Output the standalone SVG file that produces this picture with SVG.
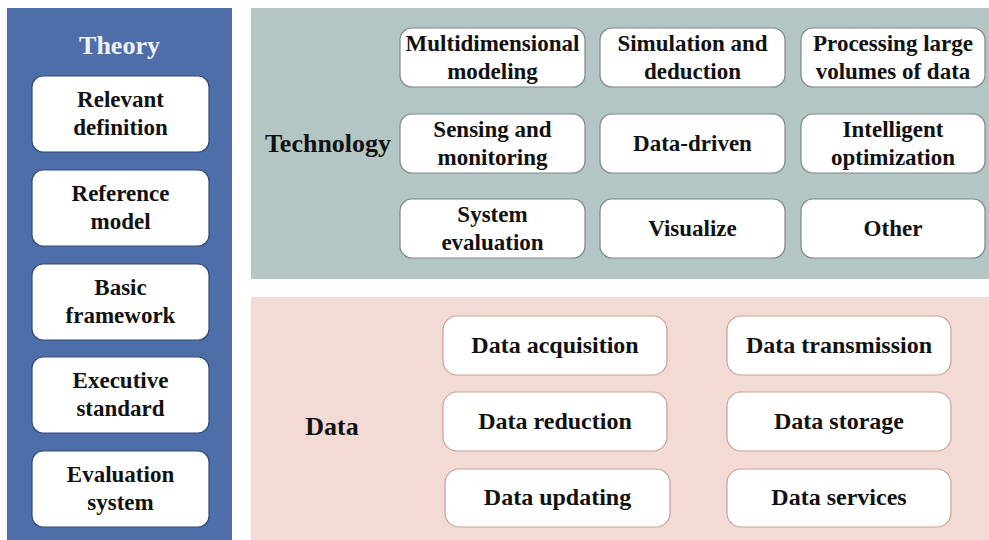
<svg xmlns="http://www.w3.org/2000/svg" width="989" height="540" viewBox="0 0 989 540">
<style>
text{font-family:"Liberation Serif","Times New Roman",serif;font-weight:bold;text-anchor:middle;fill:#111}
.bt{font-size:23px}
.da .bt{font-size:24px}
.title{font-size:26px}
.th rect{fill:#fff;stroke:#34497a;stroke-width:1.2}
.te rect{fill:#fff;stroke:#7c8786;stroke-width:1.2}
.da rect{fill:#fff;stroke:#c9a197;stroke-width:1.2}
</style>
<rect width="989" height="540" fill="#fff"/>
<g id="panel-theory">
<rect x="7" y="8" width="225" height="532" fill="#4e6ea9"/>
<text class="title" x="119.5" y="54" style="fill:#eef2f8">Theory</text>
</g>
<g id="panel-technology">
<rect x="251" y="8" width="738" height="271" fill="#b3c6c4"/>
<text class="title" x="328" y="152">Technology</text>
</g>
<g id="panel-data">
<rect x="251" y="297" width="738" height="243" fill="#f3dbd5"/>
<text class="title" x="332" y="435">Data</text>
</g>
<g id="connectors"></g>
<g id="theory-1" class="th"><rect x="32" y="76" width="177" height="76" rx="11"/><text class="bt" x="120.5" y="107">Relevant</text><text class="bt" x="120.5" y="135">definition</text></g>
<g id="theory-2" class="th"><rect x="32" y="170" width="177" height="76" rx="11"/><text class="bt" x="120.5" y="201">Reference</text><text class="bt" x="120.5" y="229">model</text></g>
<g id="theory-3" class="th"><rect x="32" y="264" width="177" height="76" rx="11"/><text class="bt" x="120.5" y="295">Basic</text><text class="bt" x="120.5" y="323">framework</text></g>
<g id="theory-4" class="th"><rect x="32" y="357" width="177" height="76" rx="11"/><text class="bt" x="120.5" y="388">Executive</text><text class="bt" x="120.5" y="416">standard</text></g>
<g id="theory-5" class="th"><rect x="32" y="451" width="177" height="76" rx="11"/><text class="bt" x="120.5" y="482">Evaluation</text><text class="bt" x="120.5" y="510">system</text></g>
<g id="tech-1" class="te"><rect x="400" y="28" width="185" height="59" rx="12"/><text class="bt" x="492.5" y="51">Multidimensional</text><text class="bt" x="492.5" y="79">modeling</text></g>
<g id="tech-2" class="te"><rect x="600" y="28" width="185" height="59" rx="12"/><text class="bt" x="692.5" y="51">Simulation and</text><text class="bt" x="692.5" y="79">deduction</text></g>
<g id="tech-3" class="te"><rect x="801" y="28" width="184" height="59" rx="12"/><text class="bt" x="893" y="51">Processing large</text><text class="bt" x="893" y="79">volumes of data</text></g>
<g id="tech-4" class="te"><rect x="400" y="114" width="185" height="59" rx="12"/><text class="bt" x="492.5" y="137">Sensing and</text><text class="bt" x="492.5" y="165">monitoring</text></g>
<g id="tech-5" class="te"><rect x="600" y="114" width="185" height="59" rx="12"/><text class="bt" x="692.5" y="151">Data-driven</text></g>
<g id="tech-6" class="te"><rect x="801" y="114" width="184" height="59" rx="12"/><text class="bt" x="893" y="137">Intelligent</text><text class="bt" x="893" y="165">optimization</text></g>
<g id="tech-7" class="te"><rect x="400" y="199" width="185" height="59" rx="12"/><text class="bt" x="492.5" y="222">System</text><text class="bt" x="492.5" y="250">evaluation</text></g>
<g id="tech-8" class="te"><rect x="600" y="199" width="185" height="59" rx="12"/><text class="bt" x="692.5" y="236">Visualize</text></g>
<g id="tech-9" class="te"><rect x="801" y="199" width="184" height="59" rx="12"/><text class="bt" x="893" y="236">Other</text></g>
<g id="data-1" class="da"><rect x="443" y="316" width="224" height="59" rx="14"/><text class="bt" x="555" y="353">Data acquisition</text></g>
<g id="data-2" class="da"><rect x="727" y="316" width="224" height="59" rx="14"/><text class="bt" x="839" y="353">Data transmission</text></g>
<g id="data-3" class="da"><rect x="443" y="392" width="224" height="59" rx="14"/><text class="bt" x="555" y="429">Data reduction</text></g>
<g id="data-4" class="da"><rect x="727" y="392" width="224" height="59" rx="14"/><text class="bt" x="839" y="429">Data storage</text></g>
<g id="data-5" class="da"><rect x="445" y="469" width="225" height="58" rx="14"/><text class="bt" x="557.5" y="505">Data updating</text></g>
<g id="data-6" class="da"><rect x="727" y="469" width="224" height="58" rx="14"/><text class="bt" x="839" y="505">Data services</text></g>
</svg>
